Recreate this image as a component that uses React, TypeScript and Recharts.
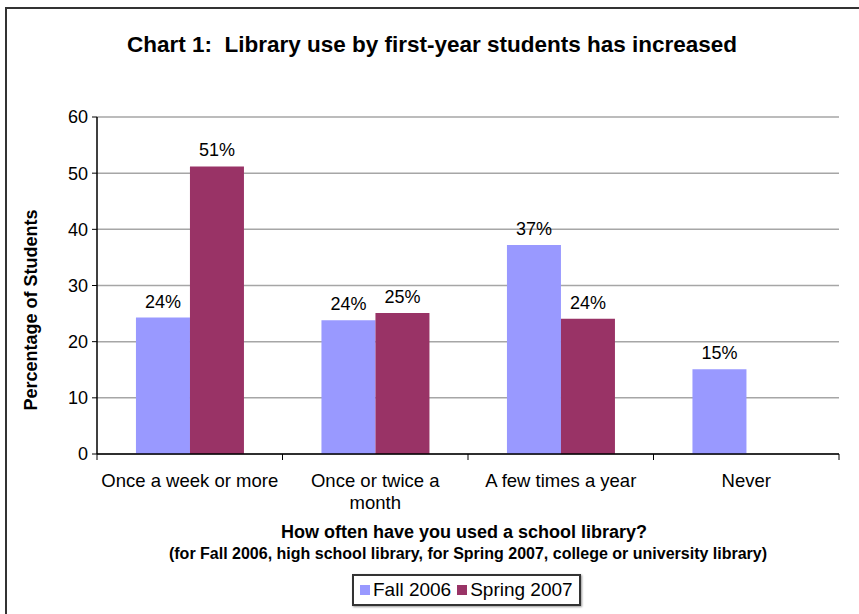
import { BarChart, Bar, XAxis, YAxis, CartesianGrid, LabelList, Legend } from "recharts";

const categories = ["Once a week or more", "Once or twice a month", "A few times a year", "Never"];
const fall2006: (number | null)[] = [24.3, 23.8, 37.2, 15.1];
const spring2007: (number | null)[] = [51.2, 25.1, 24.1, null];
const yTicks = [0, 10, 20, 30, 40, 50, 60];
const seriesNames = ["Fall 2006", "Spring 2007"];
const colors = ["#9999FF", "#993366"];

const data = categories.map((c, i) => ({ category: c, fall: fall2006[i], spring: spring2007[i] }));

const W = 859;
const H = 614;
const PLOT_LEFT = 97;
const PLOT_RIGHT = 839;
const PLOT_TOP = 117;
const PLOT_BOTTOM = 454;
const HALF_BAND = (PLOT_RIGHT - PLOT_LEFT) / categories.length / 2;
const FONT = "'Liberation Sans', Arial, sans-serif";
const TICK_FONT_SIZE = 18.5;

let measureCtx: CanvasRenderingContext2D | null = null;
function wrapWords(text: string, maxWidth: number): string[] {
  if (!measureCtx) measureCtx = document.createElement("canvas").getContext("2d");
  if (!measureCtx) return [text];
  measureCtx.font = `${TICK_FONT_SIZE}px ${FONT}`;
  const lines: string[] = [];
  let cur = "";
  for (const w of text.split(" ")) {
    const next = cur ? `${cur} ${w}` : w;
    if (cur && measureCtx.measureText(next).width > maxWidth) {
      lines.push(cur);
      cur = w;
    } else {
      cur = next;
    }
  }
  if (cur) lines.push(cur);
  return lines;
}

function CategoryTick(props: any) {
  const { x, payload, index } = props;
  const lines = wrapWords(String(payload.value), 180);
  return (
    <g>
      <line x1={x - HALF_BAND} x2={x - HALF_BAND} y1={PLOT_BOTTOM} y2={PLOT_BOTTOM + 6} stroke="#000" />
      {index === categories.length - 1 && (
        <line x1={x + HALF_BAND} x2={x + HALF_BAND} y1={PLOT_BOTTOM} y2={PLOT_BOTTOM + 6} stroke="#000" />
      )}
      <text x={x} y={487} textAnchor="middle" fontSize={TICK_FONT_SIZE} fontFamily={FONT} fill="#000">
        {lines.map((l, i) => (
          <tspan key={i} x={x} dy={i === 0 ? 0 : 22}>
            {l}
          </tspan>
        ))}
      </text>
    </g>
  );
}

function XTitle() {
  const cx = (PLOT_LEFT + PLOT_RIGHT) / 2;
  return (
    <g fontFamily={FONT} fontWeight="bold" fill="#000" textAnchor="middle">
      <text x={cx - 4} y={538} fontSize={18}>How often have you used a school library?</text>
      <text x={cx} y={559} fontSize={16}>(for Fall 2006, high school library, for Spring 2007, college or university library)</text>
    </g>
  );
}

function YTitle() {
  const x = 37;
  const y = 310;
  return (
    <text x={x} y={y} transform={`rotate(-90 ${x} ${y})`} textAnchor="middle" fontFamily={FONT} fontWeight="bold" fontSize={18} fill="#000">
      Percentage of Students
    </text>
  );
}

function LegendBox() {
  return (
    <div
      style={{
        border: "2px solid #333",
        boxShadow: "1px 1px 2px #999",
        padding: "3px 6px",
        display: "flex",
        alignItems: "center",
        gap: 6,
        fontFamily: FONT,
        fontSize: 19,
        color: "#000",
        background: "#fff",
        whiteSpace: "nowrap",
      }}
    >
      {seriesNames.map((n, i) => (
        <span key={n} style={{ display: "flex", alignItems: "center", gap: 3 }}>
          <span style={{ width: 10, height: 10, background: colors[i], display: "inline-block" }} />
          {n}
        </span>
      ))}
    </div>
  );
}

const pct = (v: any) => (v == null ? "" : `${Math.round(Number(v))}%`);

export default function App() {
  return (
    <div style={{ position: "absolute", left: 0, top: 0, width: W, height: H, overflow: "hidden", background: "#fff" }}>
      <div
        style={{
          position: "absolute",
          left: 5,
          top: 7,
          width: W + 50,
          height: H + 50,
          borderLeft: "2px solid #333",
          borderTop: "2px solid #333",
        }}
      />
      <div
        style={{
          position: "absolute",
          left: 0,
          width: 864,
          top: 32,
          textAlign: "center",
          fontFamily: FONT,
          fontWeight: "bold",
          fontSize: 22.5,
          color: "#000",
        }}
      >
        Chart 1:&nbsp; Library use by first-year students has increased
      </div>
      <div style={{ position: "absolute", left: 0, top: 0 }}>
        <BarChart
          width={W}
          height={H}
          data={data}
          margin={{ top: PLOT_TOP, right: W - PLOT_RIGHT, bottom: 100, left: 0 }}
          barCategoryGap="21%"
          barGap={0}
        >
          <CartesianGrid vertical={false} stroke="#a6a6a6" strokeWidth={1.5} />
          <XAxis
            dataKey="category"
            height={H - 100 - PLOT_BOTTOM}
            axisLine={{ stroke: "#000", strokeWidth: 1.5 }}
            tickLine={false}
            tick={<CategoryTick />}
            interval={0}
            label={<XTitle />}
          />
          <YAxis
            width={PLOT_LEFT}
            domain={[0, 60]}
            ticks={yTicks}
            interval={0}
            axisLine={{ stroke: "#000", strokeWidth: 1.5 }}
            tickLine={{ stroke: "#000" }}
            tickSize={5}
            tickMargin={4}
            tick={{ fill: "#000", fontSize: 18, fontFamily: FONT }}
            label={<YTitle />}
          />
          <YAxis
            yAxisId="right"
            orientation="right"
            width={0}
            domain={[0, 60]}
            tick={false}
            tickLine={false}
            axisLine={{ stroke: "#a6a6a6", strokeWidth: 1.5 }}
          />
          <Legend
            layout="horizontal"
            verticalAlign="middle"
            align="center"
            wrapperStyle={{ top: 574, left: 352, width: "auto" }}
            content={<LegendBox />}
          />
          <Bar dataKey="fall" name={seriesNames[0]} fill={colors[0]} isAnimationActive={false}>
            <LabelList dataKey="fall" position="top" offset={10} formatter={pct} fill="#000" fontSize={18} fontFamily={FONT} />
          </Bar>
          <Bar dataKey="spring" name={seriesNames[1]} fill={colors[1]} isAnimationActive={false}>
            <LabelList dataKey="spring" position="top" offset={10} formatter={pct} fill="#000" fontSize={18} fontFamily={FONT} />
          </Bar>
        </BarChart>
      </div>
    </div>
  );
}
